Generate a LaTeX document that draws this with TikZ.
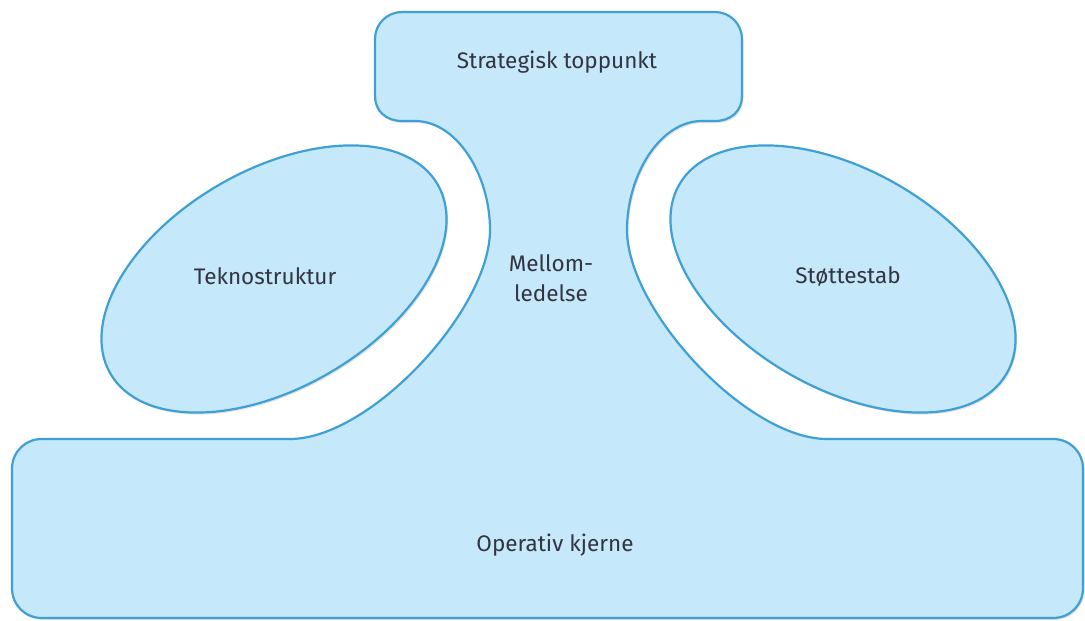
\documentclass[tikz,border=0pt]{standalone}
\usepackage{fontspec}
\setmainfont{Fira Sans}
\usetikzlibrary{shadows}
\definecolor{fillb}{RGB}{197,232,250}
\definecolor{lineb}{RGB}{62,160,212}
\definecolor{txt}{RGB}{50,52,64}
\begin{document}
\begin{tikzpicture}[x=1pt,y=-1pt,
  part/.style={fill=fillb, draw=lineb, line width=2.2pt,
    drop shadow={shadow xshift=1.5pt, shadow yshift=-2pt, opacity=0.22, fill=gray}},
  lbl/.style={text=txt, font=\fontsize{22.5}{30}\selectfont, align=center, inner sep=0pt}]
\useasboundingbox (0,0) rectangle (1085,621);
% main body: strategic apex, middle line, operating core
\path[part] (402,12) -- (715,12)
  .. controls (730,12) and (742,24) .. (742,39)
  -- (742,96)
  .. controls (742,111) and (731,121) .. (715,121)
  -- (702,121)
  .. controls (660,121) and (627,175) .. (627,230)
  .. controls (627,310) and (747,439) .. (827,439)
  -- (1053,439)
  .. controls (1070,439) and (1083,452) .. (1083,469)
  -- (1083,588)
  .. controls (1083,605) and (1070,618) .. (1053,618)
  -- (42,618)
  .. controls (25,618) and (12,605) .. (12,588)
  -- (12,469)
  .. controls (12,452) and (25,439) .. (42,439)
  -- (290,439)
  .. controls (370,439) and (490,310) .. (490,230)
  .. controls (490,175) and (457,121) .. (415,121)
  -- (402,121)
  .. controls (386,121) and (375,111) .. (375,96)
  -- (375,39)
  .. controls (375,24) and (387,12) .. (402,12) -- cycle;
% side ellipses
\path[part, rotate around={30:(274,279)}] (274,279) ellipse [x radius=189, y radius=109];
\path[part, rotate around={-30:(843,279)}] (843,279) ellipse [x radius=189, y radius=109];
% labels
\node[lbl] (apex) at (557,62) {Strategisk toppunkt};
\node[lbl] (tekno) at (265,276) {Teknostruktur};
\node[lbl] (mid) at (551,278) {Mellom-\\ledelse};
\node[lbl] (stab) at (848,277) {Støttestab};
\node[lbl] (core) at (555,545) {Operativ kjerne};
\end{tikzpicture}
\end{document}
